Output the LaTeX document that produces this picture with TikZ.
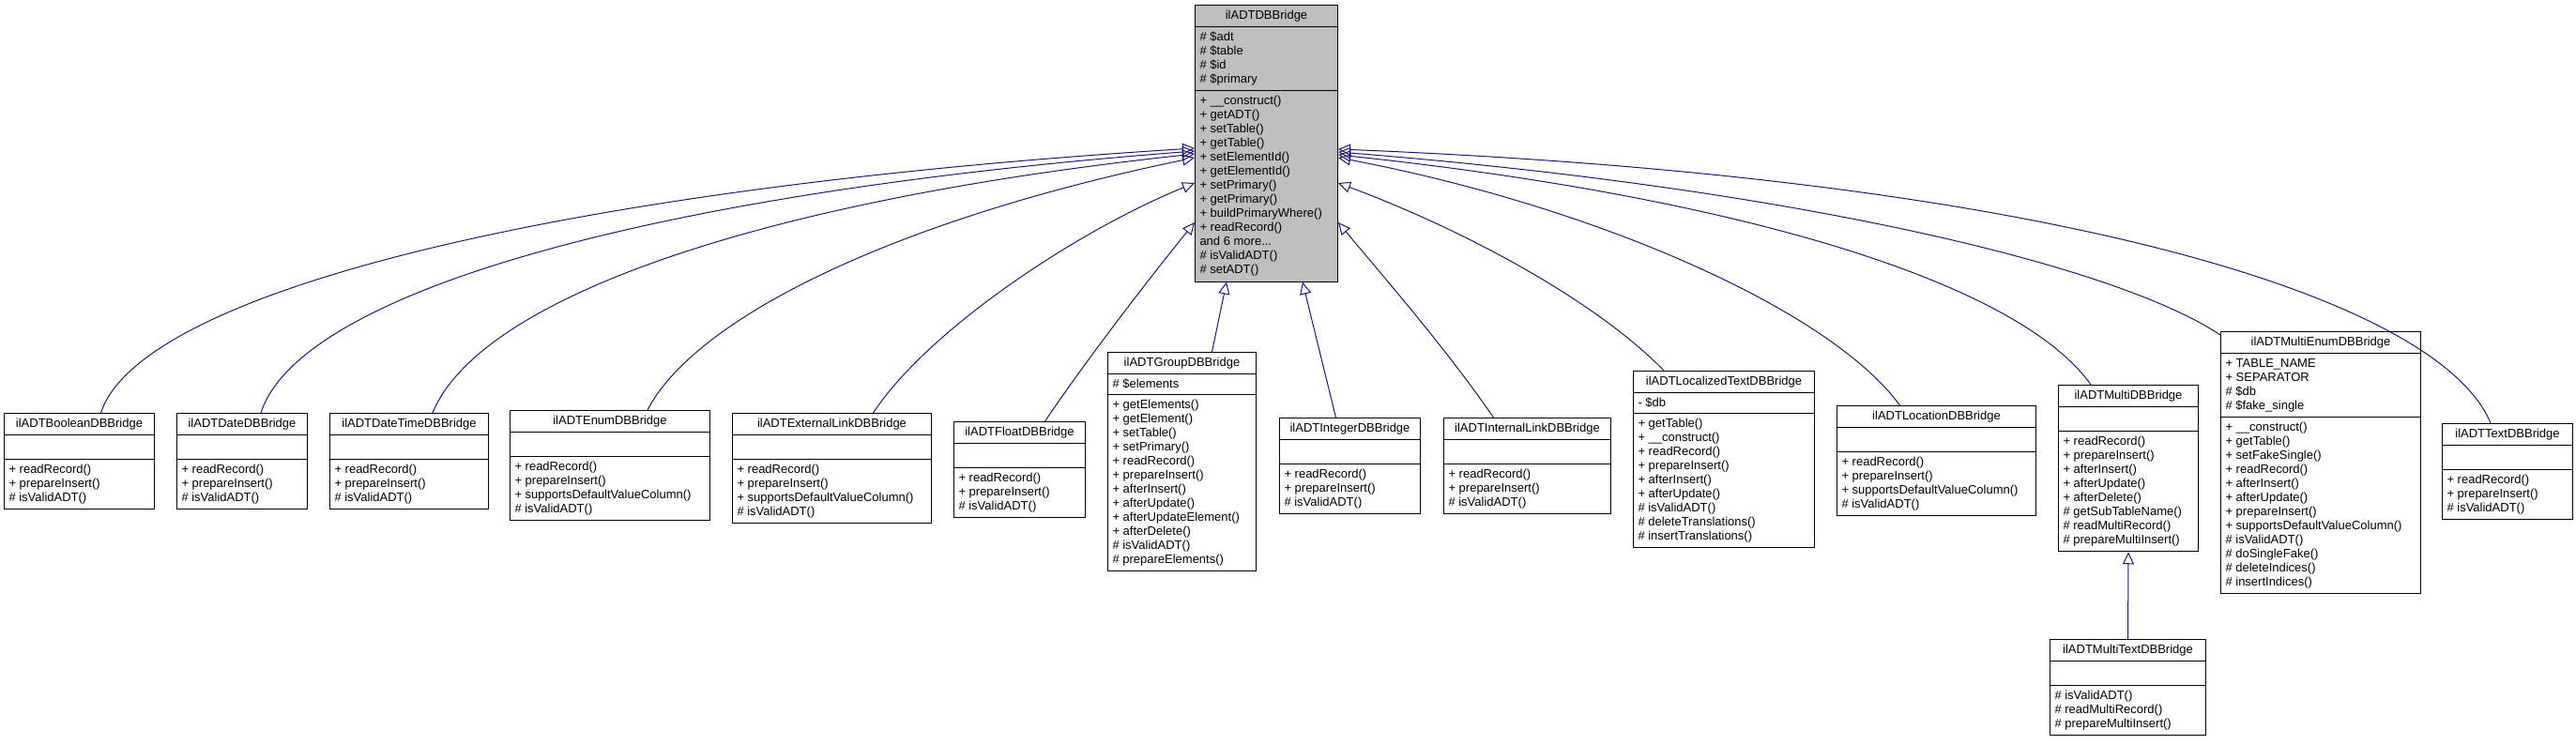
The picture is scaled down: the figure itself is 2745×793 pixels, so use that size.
\documentclass[tikz,border=0pt]{standalone}
\usepackage{fontspec}
\setmainfont{Liberation Sans}
\usetikzlibrary{shapes.multipart,arrows.meta,calc}
\definecolor{edgeblue}{HTML}{191970}
\definecolor{topgray}{HTML}{BFBFBF}
\begin{document}
\begin{tikzpicture}[x=1pt,y=-1pt,
  cls/.style={rectangle split, rectangle split parts=3, draw=black, line width=1pt,
    anchor=north west, align=left, inner xsep=5pt, inner ysep=5pt,
    rectangle split part align={center,left,left},
    font=\fontsize{13}{15}\selectfont},
  inh/.style={draw=edgeblue, line width=1pt, -{Triangle[open,length=13pt,width=12pt]}}]
\useasboundingbox (0,0) rectangle (2745,793);
\def\e{\strut}
\node[cls, fill=topgray, minimum width=152pt] (P) at (1273,5)
 {ilADTDBBridge\nodepart{two}\# \$adt\\\# \$table\\\# \$id\\\# \$primary
 \nodepart{three}+ \_\_construct()\\+ getADT()\\+ setTable()\\+ getTable()\\+ setElementId()\\+ getElementId()\\+ setPrimary()\\+ getPrimary()\\+ buildPrimaryWhere()\\+ readRecord()\\and 6 more...\\\# isValidADT()\\\# setADT()};
\node[cls, minimum width=160pt] (bo) at (4,440) {ilADTBooleanDBBridge\nodepart{two}\e\nodepart{three}+ readRecord()\\+ prepareInsert()\\\# isValidADT()};
\node[cls, minimum width=139pt] (da) at (188,440) {ilADTDateDBBridge\nodepart{two}\e\nodepart{three}+ readRecord()\\+ prepareInsert()\\\# isValidADT()};
\node[cls, minimum width=169pt] (dt) at (351,440) {ilADTDateTimeDBBridge\nodepart{two}\e\nodepart{three}+ readRecord()\\+ prepareInsert()\\\# isValidADT()};
\node[cls, minimum width=213pt] (en) at (543,437) {ilADTEnumDBBridge\nodepart{two}\e\nodepart{three}+ readRecord()\\+ prepareInsert()\\+ supportsDefaultValueColumn()\\\# isValidADT()};
\node[cls, minimum width=212pt] (ex) at (780,440) {ilADTExternalLinkDBBridge\nodepart{two}\e\nodepart{three}+ readRecord()\\+ prepareInsert()\\+ supportsDefaultValueColumn()\\\# isValidADT()};
\node[cls, minimum width=140pt] (fl) at (1016,449) {ilADTFloatDBBridge\nodepart{two}\e\nodepart{three}+ readRecord()\\+ prepareInsert()\\\# isValidADT()};
\node[cls, minimum width=158pt] (gr) at (1180,375) {ilADTGroupDBBridge\nodepart{two}\# \$elements\nodepart{three}+ getElements()\\+ getElement()\\+ setTable()\\+ setPrimary()\\+ readRecord()\\+ prepareInsert()\\+ afterInsert()\\+ afterUpdate()\\+ afterUpdateElement()\\+ afterDelete()\\\# isValidADT()\\\# prepareElements()};
\node[cls, minimum width=150pt] (in) at (1363,445) {ilADTIntegerDBBridge\nodepart{two}\e\nodepart{three}+ readRecord()\\+ prepareInsert()\\\# isValidADT()};
\node[cls, minimum width=178pt] (il) at (1538,445) {ilADTInternalLinkDBBridge\nodepart{two}\e\nodepart{three}+ readRecord()\\+ prepareInsert()\\\# isValidADT()};
\node[cls, minimum width=193pt] (lt) at (1740,395) {ilADTLocalizedTextDBBridge\nodepart{two}- \$db\nodepart{three}+ getTable()\\+ \_\_construct()\\+ readRecord()\\+ prepareInsert()\\+ afterInsert()\\+ afterUpdate()\\\# isValidADT()\\\# deleteTranslations()\\\# insertTranslations()};
\node[cls, minimum width=212pt] (lo) at (1957,432) {ilADTLocationDBBridge\nodepart{two}\e\nodepart{three}+ readRecord()\\+ prepareInsert()\\+ supportsDefaultValueColumn()\\\# isValidADT()};
\node[cls, minimum width=149pt] (mu) at (2193,410) {ilADTMultiDBBridge\nodepart{two}\e\nodepart{three}+ readRecord()\\+ prepareInsert()\\+ afterInsert()\\+ afterUpdate()\\+ afterDelete()\\\# getSubTableName()\\\# readMultiRecord()\\\# prepareMultiInsert()};
\node[cls, minimum width=213pt] (me) at (2366,353) {ilADTMultiEnumDBBridge\nodepart{two}+ TABLE\_NAME\\+ SEPARATOR\\\# \$db\\\# \$fake\_single\nodepart{three}+ \_\_construct()\\+ getTable()\\+ setFakeSingle()\\+ readRecord()\\+ afterInsert()\\+ afterUpdate()\\+ prepareInsert()\\+ supportsDefaultValueColumn()\\\# isValidADT()\\\# doSingleFake()\\\# deleteIndices()\\\# insertIndices()};
\node[cls, minimum width=139pt] (te) at (2602,451) {ilADTTextDBBridge\nodepart{two}\e\nodepart{three}+ readRecord()\\+ prepareInsert()\\\# isValidADT()};
\node[cls, minimum width=166pt] (mt) at (2184,681) {ilADTMultiTextDBBridge\nodepart{two}\e\nodepart{three}\# isValidADT()\\\# readMultiRecord()\\\# prepareMultiInsert()};
% edges
\draw[inh] ($(bo.north)+(23,0)$) .. controls (150,310) and (600,200) .. ($(P.north west)+(0,153)$);
\draw[inh] ($(da.north)+(20,0)$) .. controls (320,310) and (700,205) .. ($(P.north west)+(0,156)$);
\draw[inh] ($(dt.north)+(25,0)$) .. controls (510,320) and (800,215) .. ($(P.north west)+(0,159)$);
\draw[inh] ($(en.north)+(40,0)$) .. controls (740,340) and (950,235) .. ($(P.north west)+(0,163)$);
\draw[inh] ($(ex.north)+(44,0)$) .. controls (990,350) and (1150,245) .. ($(P.north west)+(0,190)$);
\draw[inh] ($(fl.north)+(27,0)$) .. controls (1160,380) and (1230,290) .. ($(P.north west)+(0,232)$);
\draw[inh] ($(gr.north)+(32,0)$) -- ($(P.south west)+(34,0)$);
\draw[inh] ($(in.north)+(-15,0)$) -- ($(P.south west)+(115,0)$);
\draw[inh] ($(il.north)+(-36,0)$) .. controls (1540,370) and (1470,290) .. ($(P.north east)+(0,232)$);
\draw[inh] ($(lt.north)+(-64,0)$) .. controls (1700,320) and (1560,245) .. ($(P.north east)+(0,190)$);
\draw[inh] ($(lo.north)+(-39,0)$) .. controls (1950,330) and (1700,220) .. ($(P.north east)+(0,163)$);
\draw[inh] ($(mu.north)+(-40,0)$) .. controls (2150,300) and (1850,210) .. ($(P.north east)+(0,160)$);
\draw[inh] ($(me.north west)+(0,4)$) .. controls (2250,280) and (1900,200) .. ($(P.north east)+(0,157)$);
\draw[inh] ($(te.north)+(-18,0)$) .. controls (2600,320) and (2200,190) .. ($(P.north east)+(0,154)$);
\draw[inh] (mt.north) -- (mu.south);
\end{tikzpicture}
\end{document}
